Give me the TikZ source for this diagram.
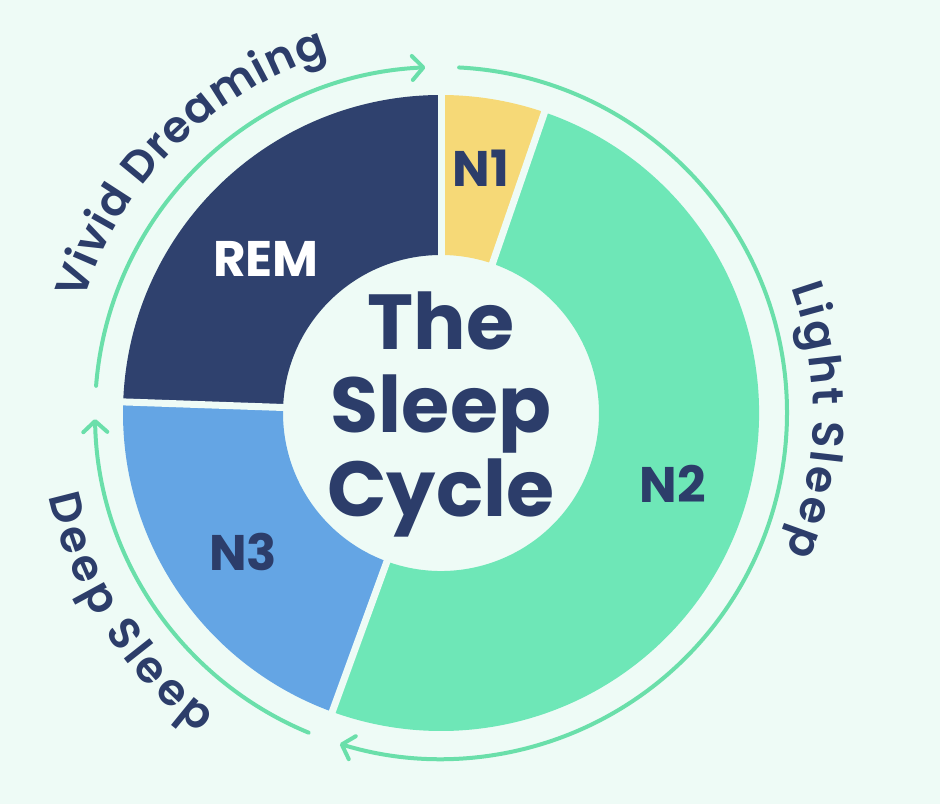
\documentclass[tikz,border=0pt]{standalone}
\usepackage{fontspec}
\setmainfont{Poppins}
\newfontfamily\popbold{Poppins}[UprightFont={* Bold}]
\newfontfamily\popsb{Poppins}[UprightFont={* SemiBold}]
\usetikzlibrary{arrows.meta,decorations.text}
\definecolor{bgc}{HTML}{EEFBF6}
\definecolor{remc}{HTML}{2F416E}
\definecolor{txtc}{HTML}{2C3D6A}
\definecolor{n1c}{HTML}{F6D977}
\definecolor{n2c}{HTML}{6EE7B7}
\definecolor{n3c}{HTML}{64A5E4}
\definecolor{arrc}{HTML}{6ADFAA}
\tikzset{
  gapline/.style={draw=bgc, line width=7pt},
  cyclearrow/.style={draw=arrc, line width=4pt, line cap=round, -{Straight Barb[round,length=11pt,width=24pt]}},
  seglabel/.style={font=\popbold\fontsize{50}{50}\selectfont, text=txtc, inner sep=0pt},
  titleline/.style={font=\popbold\fontsize{78}{80}\selectfont, text=txtc, inner sep=0pt, anchor=base},
  arclabel/.style={decorate, decoration={text effects along path, text={#1},
     text effects/.cd, text along path, fit text to path, characters={text=txtc}}},
}
\begin{document}
\begin{tikzpicture}[x=1pt,y=1pt]
\useasboundingbox[fill=bgc] (0,0) rectangle (940,804);
\begin{scope}[shift={(441,391)}]
  \coordinate (c) at (0,0);
  % segments
  \fill[n1c] (90:318) arc[start angle=90, end angle=71, radius=318pt] -- (71:158) arc[start angle=71, end angle=90, radius=158pt] -- cycle;
  \fill[n2c] (71:318) arc[start angle=71, end angle=-110, radius=318pt] -- (-110:158) arc[start angle=-110, end angle=71, radius=158pt] -- cycle;
  \fill[n3c] (250:318) arc[start angle=250, end angle=178, radius=318pt] -- (178:158) arc[start angle=178, end angle=250, radius=158pt] -- cycle;
  \fill[remc] (178:318) arc[start angle=178, end angle=90, radius=318pt] -- (90:158) arc[start angle=90, end angle=178, radius=158pt] -- cycle;
  % gaps
  \coordinate (g1) at (90:330);
  \coordinate (g2) at (71:330);
  \coordinate (g3) at (250:330);
  \coordinate (g4) at (178:330);
  \draw[gapline] (c) -- (g1);
  \draw[gapline] (c) -- (g2);
  \draw[gapline] (c) -- (g3);
  \draw[gapline] (c) -- (g4);
  % arrows
  \coordinate (a1) at (175.5:346);
  \coordinate (b1) at (87:346);
  \coordinate (c1) at (247.5:346);
  \draw[cyclearrow] (a1) arc[start angle=175.5, end angle=92.6, radius=346pt];
  \draw[cyclearrow] (b1) arc[start angle=87, end angle=-107, radius=346pt];
  \draw[cyclearrow] (c1) arc[start angle=247.5, end angle=181, radius=346pt];
  % outer labels
  \coordinate (t1) at (162.5:375);
  \coordinate (t2) at (19.7:372);
  \coordinate (t3) at (192:401);
  \begin{scope}
    \popsb\fontsize{44}{44}\selectfont
    \path[arclabel={Vivid Dreaming}] (t1) arc[start angle=162.5, end angle=107.5, radius=375pt];
    \path[arclabel={Light Sleep}] (t2) arc[start angle=19.7, end angle=-22, radius=372pt];
    \path[arclabel={Deep Sleep}] (t3) arc[start angle=192, end angle=233, radius=401pt];
  \end{scope}
\end{scope}
% segment labels
\node[seglabel, text=white] (rem) at (266,545) {REM};
\node[seglabel] (n1) at (481,636) {N1};
\node[seglabel] (n2) at (673,320) {N2};
\node[seglabel] (n3) at (243,252) {N3};
% title
\node[titleline] (tl1) at (441,454) {The};
\node[titleline] (tl2) at (441,371) {Sleep};
\node[titleline] (tl3) at (441,287) {Cycle};
\end{tikzpicture}
\end{document}
